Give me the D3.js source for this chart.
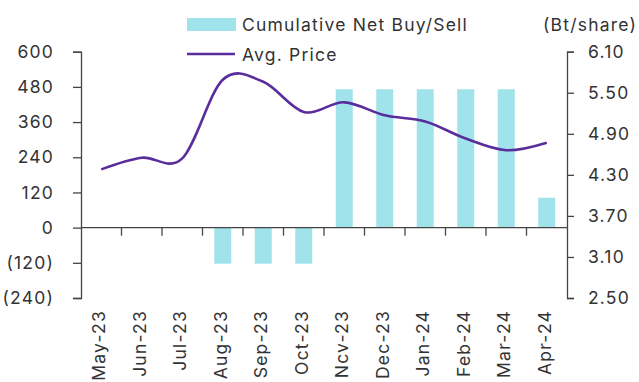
<!DOCTYPE html>
<html>
<head>
<meta charset="utf-8">
<script src="https://cdn.jsdelivr.net/npm/d3@7"></script>
<style>
  html, body { margin: 0; padding: 0; background: #fff; }
  svg text { font-family: "Inter", "DejaVu Sans", sans-serif; fill: #333; letter-spacing: 1.2px; }
</style>
</head>
<body>
<svg id="chart" width="639" height="382"></svg>
<script>
// Monthly foreign net flow (cumulative, left axis) and average price (right axis)
const months = ["May-23", "Jun-23", "Jul-23", "Aug-23", "Sep-23", "Oct-23",
                "Ncv-23", "Dec-23", "Jan-24", "Feb-24", "Mar-24", "Apr-24"];
const netBuySell = [0, 0, 0, -123, -123, -123, 472, 472, 472, 472, 472, 102];
const avgPrice = [4.38, 4.55, 4.54, 5.69, 5.66, 5.22, 5.36, 5.17, 5.08, 4.83, 4.66, 4.77];
const leftTicks = [600, 480, 360, 240, 120, 0, -120, -240];
const rightTicks = [6.10, 5.50, 4.90, 4.30, 3.70, 3.10, 2.50];
const seriesNames = ["Cumulative Net Buy/Sell", "Avg. Price"];
const unitLabel = "(Bt/share)";

const barColor = "#a0e3eb";
const lineColor = "#5a2d9c";
const axisColor = "#444";
const fontSize = "17.5px";

const svg = d3.select("#chart");
const plot = { left: 81, right: 567, top: 51.7, bottom: 298 };

const xStep = d3.scaleBand().domain(months).range([plot.left, plot.right]);
const yL = d3.scaleLinear().domain([-240, 600]).range([plot.bottom, plot.top]);
const yR = d3.scaleLinear().domain([2.50, 6.10]).range([plot.bottom, plot.top]);
const barWidth = 17;

const fmtLeft = v => v < 0 ? "(" + Math.abs(v) + ")" : String(v);

// Bars
svg.append("g").selectAll("rect").data(months).join("rect")
  .attr("x", (d) => xStep(d) + (xStep.step() - barWidth) / 2)
  .attr("width", barWidth)
  .attr("y", (d, i) => yL(Math.max(0, netBuySell[i])))
  .attr("height", (d, i) => Math.abs(yL(netBuySell[i]) - yL(0)))
  .attr("fill", barColor);

// Left axis
const gL = svg.append("g").attr("transform", `translate(${plot.left},0)`)
  .call(d3.axisLeft(yL).tickValues(leftTicks).tickFormat(fmtLeft).tickSize(8).tickPadding(19));
// Right axis
const gR = svg.append("g").attr("transform", `translate(${plot.right},0)`)
  .call(d3.axisRight(yR).tickValues(rightTicks).tickFormat(d3.format(".2f")).tickSize(7).tickPadding(14));

[gL, gR].forEach(g => {
  g.select(".domain").attr("stroke", axisColor).attr("stroke-width", 1.3);
  g.selectAll(".tick line").attr("stroke", axisColor).attr("stroke-width", 1.3);
  g.selectAll(".tick text").style("font-size", fontSize).attr("fill", "#333");
});

// Category axis along zero, ticks at month boundaries
const gX = svg.append("g").attr("transform", `translate(0,${yL(0)})`);
gX.append("line").attr("x1", plot.left).attr("x2", plot.right)
  .attr("stroke", axisColor).attr("stroke-width", 1.3);
gX.selectAll("line.b").data(months.slice(1)).join("line").attr("class", "b")
  .attr("x1", d => xStep(d)).attr("x2", d => xStep(d))
  .attr("y1", 0).attr("y2", 8)
  .attr("stroke", axisColor).attr("stroke-width", 1.3);

// Month labels below the plot, rotated
svg.append("g").selectAll("text").data(months).join("text")
  .attr("transform", d => `translate(${xStep(d) + xStep.step() / 2 - 2},310) rotate(-90)`)
  .attr("text-anchor", "end")
  .attr("dy", "0.35em")
  .style("font-size", fontSize)
  .text(d => d);

// Price line
const line = d3.line()
  .x((d, i) => xStep(months[i]) + xStep.step() / 2)
  .y(d => yR(d))
  .curve(d3.curveCardinal.tension(0));
svg.append("path").datum(avgPrice)
  .attr("d", line)
  .attr("fill", "none")
  .attr("stroke", lineColor)
  .attr("stroke-width", 2.6)
  .attr("stroke-linejoin", "round");

// Legend
const lg = svg.append("g");
lg.append("rect").attr("x", 187).attr("y", 18).attr("width", 49).attr("height", 13).attr("fill", barColor);
lg.append("line").attr("x1", 187).attr("x2", 235).attr("y1", 54).attr("y2", 54)
  .attr("stroke", lineColor).attr("stroke-width", 2.6);
lg.selectAll("text").data(seriesNames).join("text")
  .attr("x", 242).attr("y", (d, i) => 24.5 + i * 30)
  .attr("dy", "0.35em")
  .style("font-size", fontSize)
  .text(d => d);

// Unit label for the right axis
svg.append("text").attr("x", 637).attr("y", 24.5).attr("dy", "0.35em")
  .attr("text-anchor", "end").style("font-size", fontSize).text(unitLabel);
</script>
</body>
</html>
